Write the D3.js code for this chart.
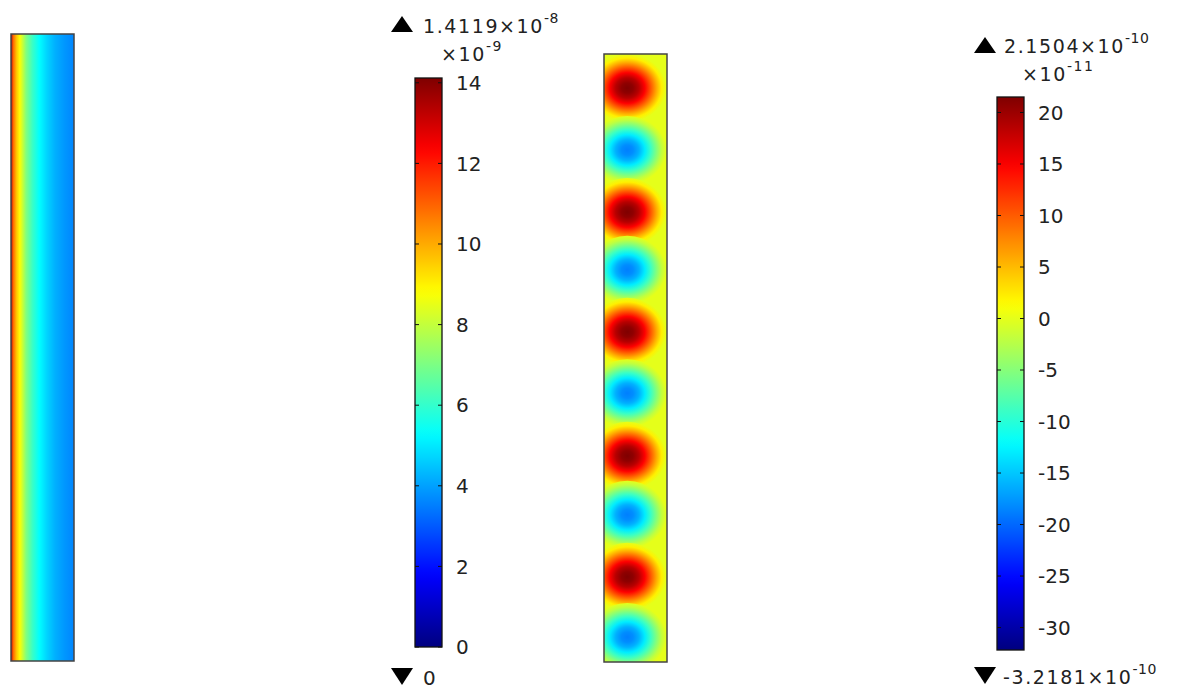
<!DOCTYPE html>
<html>
<head>
<meta charset="utf-8">
<script src="https://cdn.jsdelivr.net/npm/d3@7"></script>
<style>
    body { margin: 0; background: #fff; }
    text { font-family: "DejaVu Sans", sans-serif; fill: #222; }
</style>
</head>
<body>
<svg id="chart" width="1179" height="693"></svg>
<script>
// ---- left plot: value across the strip width (fraction of width -> value, x1e-9)
var leftPos = [0, 0.04, 0.09, 0.14, 0.24, 0.34, 0.45, 0.57, 0.7, 0.85, 1];
var leftVal = [13, 10.8, 9.6, 8.8, 7.1, 6.1, 5.3, 4.7, 4.2, 3.85, 3.6];
var range1 = [0, 14.119];
var ticks1 = [0, 2, 4, 6, 8, 10, 12, 14];
var maxLabel1 = ["1.4119", "-8"], factor1 = "-9", minLabel1 = "0";

// ---- right plot: lobes along the strip (position 0..10, peak value x1e-11)
var lobePos = [0.56, 1.58, 2.6, 3.55, 4.57, 5.58, 6.61, 7.58, 8.6, 9.59];
var lobePeak = [21.5, -18.8, 21.5, -18.8, 21.5, -18.8, 21.5, -18.8, 21.5, -18.8];
var lobeBase = 0;
// radial profile of a lobe (radius fraction -> share of peak)
var lobeR = [0, 0.15, 0.3, 0.45, 0.6, 0.75, 0.88, 1];
var lobeShare = [1, 0.96, 0.86, 0.69, 0.48, 0.27, 0.1, 0];
var range2 = [-32.181, 21.504];
var ticks2 = [-30, -25, -20, -15, -10, -5, 0, 5, 10, 15, 20];
var maxLabel2 = ["2.1504", "-10"], factor2 = "-11", minLabel2 = ["-3.2181", "-10"];

var svg = d3.select("#chart");
var defs = svg.append("defs");

// jet-like rainbow used by both plots
var jetT = [0, 0.125, 0.375, 0.625, 0.875, 1];
var jetC = ["#00007f", "#0000ff", "#00ffff", "#ffff00", "#ff0000", "#7f0000"];
function makeColor(range) {
    return d3.scaleLinear()
        .domain(jetT.map(function (t) { return range[0] + t * (range[1] - range[0]); }))
        .range(jetC)
        .clamp(true);
}
var color1 = makeColor(range1);
var color2 = makeColor(range2);

// ---------- left strip
var x1 = d3.scaleLinear().domain([0, 1]).range([11, 74]);
var y1 = d3.scaleLinear().domain([0, 10]).range([34, 661]);

var g1 = defs.append("linearGradient").attr("id", "leftGrad")
    .attr("x1", 0).attr("x2", 1).attr("y1", 0).attr("y2", 0);
g1.selectAll("stop").data(leftPos).enter().append("stop")
    .attr("offset", function (d) { return d; })
    .attr("stop-color", function (d, i) { return color1(leftVal[i]); });

svg.append("rect")
    .attr("x", x1(0)).attr("y", y1(0))
    .attr("width", x1(1) - x1(0)).attr("height", y1(10) - y1(0))
    .attr("fill", "url(#leftGrad)")
    .attr("stroke", "#444").attr("stroke-width", 1.5);

// ---------- middle strip with lobes
var x2 = d3.scaleLinear().domain([0, 1]).range([604, 667]);
var y2 = d3.scaleLinear().domain([0, 10]).range([54, 662]);

defs.append("clipPath").attr("id", "clip2")
    .append("rect")
    .attr("x", x2(0)).attr("y", y2(0))
    .attr("width", x2(1) - x2(0)).attr("height", y2(10) - y2(0));

var strip = svg.append("g").attr("clip-path", "url(#clip2)");
strip.append("rect")
    .attr("x", x2(0)).attr("y", y2(0))
    .attr("width", x2(1) - x2(0)).attr("height", y2(10) - y2(0))
    .attr("fill", color2(lobeBase));

lobePeak.forEach(function (peak, i) {
    var grad = defs.append("radialGradient").attr("id", "lobe" + i);
    grad.selectAll("stop").data(lobeR).enter().append("stop")
        .attr("offset", function (d) { return d; })
        .attr("stop-color", function (d, j) {
            return color2(lobeBase + (peak - lobeBase) * lobeShare[j]);
        });
});

strip.selectAll("ellipse").data(lobePos).enter().append("ellipse")
    .attr("cx", x2(0.37))
    .attr("cy", function (d) { return y2(d); })
    .attr("rx", x2(0.62) - x2(0))
    .attr("ry", y2(0.56) - y2(0))
    .attr("fill", function (d, i) { return "url(#lobe" + i + ")"; });

svg.append("rect")
    .attr("x", x2(0)).attr("y", y2(0))
    .attr("width", x2(1) - x2(0)).attr("height", y2(10) - y2(0))
    .attr("fill", "none")
    .attr("stroke", "#444").attr("stroke-width", 1.5);

// ---------- colour legends
function triangle(x, y, w, h, up) {
    var p = up ? [[x, y + h], [x + w, y + h], [x + w / 2, y]]
               : [[x, y], [x + w, y], [x + w / 2, y + h]];
    svg.append("path").attr("d", "M" + p.join("L") + "Z").attr("fill", "#000");
}

function sciText(x, y, mant, exp) {
    var t = svg.append("text").attr("x", x).attr("y", y)
        .style("font-size", "19px").style("letter-spacing", "1.6px");
    t.append("tspan").text(mant + "\u00d710");
    t.append("tspan").attr("dy", -10).style("font-size", "14px")
        .style("letter-spacing", "0.5px").text(exp);
}

function colorBar(id, color, range, ticks, left, top, bottom) {
    var w = 27;
    var y = d3.scaleLinear().domain(range).range([bottom, top]);
    var grad = defs.append("linearGradient").attr("id", id)
        .attr("x1", 0).attr("x2", 0).attr("y1", 1).attr("y2", 0);
    grad.selectAll("stop").data(d3.range(61)).enter().append("stop")
        .attr("offset", function (d) { return d / 60; })
        .attr("stop-color", function (d) { return color(range[0] + d / 60 * (range[1] - range[0])); });

    svg.append("rect")
        .attr("x", left).attr("y", top)
        .attr("width", w).attr("height", bottom - top)
        .attr("fill", "url(#" + id + ")")
        .attr("stroke", "#111").attr("stroke-width", 1.3);

    var tk = svg.append("g");
    tk.selectAll(".tl").data(ticks).enter().append("path")
        .attr("d", function (d) { return "M" + left + "," + y(d) + "h4"; })
        .attr("stroke", "#111");
    tk.selectAll(".tr").data(ticks).enter().append("path")
        .attr("d", function (d) { return "M" + (left + w) + "," + y(d) + "h-4"; })
        .attr("stroke", "#111");
    tk.selectAll("text").data(ticks).enter().append("text")
        .attr("x", left + w + 14)
        .attr("y", function (d) { return y(d); })
        .attr("dy", "0.36em")
        .style("font-size", "20px")
        .text(function (d) { return d; });
}

colorBar("bar1", color1, range1, ticks1, 415, 78, 647);
colorBar("bar2", color2, range2, ticks2, 997, 97, 650);

// legend 1 labels
triangle(391, 16, 22, 16, true);
sciText(423, 33, maxLabel1[0], maxLabel1[1]);
svg.append("text").attr("x", 441).attr("y", 61)
    .style("font-size", "19px").style("letter-spacing", "1.6px")
    .text("\u00d710")
    .append("tspan").attr("dy", -10).style("font-size", "14px").text(factor1);
triangle(391, 668, 22, 17, false);
svg.append("text").attr("x", 423).attr("y", 685)
    .style("font-size", "20px").text(minLabel1);

// legend 2 labels
triangle(974, 37, 22, 16, true);
sciText(1004, 53, maxLabel2[0], maxLabel2[1]);
svg.append("text").attr("x", 1022).attr("y", 81)
    .style("font-size", "19px").style("letter-spacing", "1.6px")
    .text("\u00d710")
    .append("tspan").attr("dy", -10).style("font-size", "14px").text(factor2);
triangle(974, 667, 22, 17, false);
sciText(1003, 684, minLabel2[0], minLabel2[1]);
</script>
</body>
</html>
